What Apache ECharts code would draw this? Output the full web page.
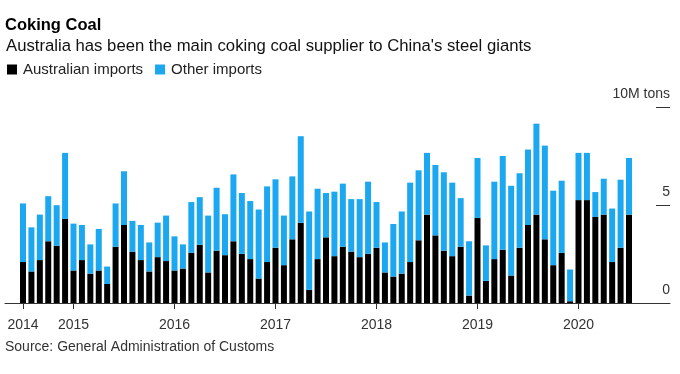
<!DOCTYPE html>
<html>
<head>
<meta charset="utf-8">
<script src="https://cdn.jsdelivr.net/npm/echarts@6/dist/echarts.min.js"></script>
<style>
html,body{margin:0;padding:0;background:#fff;}
#chart{width:680px;height:374px;}
</style>
</head>
<body>
<div id="chart"></div>
<script>
// Monthly imports, Jul 2014 – Jul 2020 (million tons)
const australianImports = [
  2.09,1.61,2.19,3.15,2.92,4.29,
  1.66,2.19,1.50,1.66,0.97,2.87,3.98,2.62,2.19,1.61,2.34,2.14,
  1.66,1.76,2.56,2.97,1.56,2.67,2.44,3.15,2.51,2.24,1.25,2.09,
  2.82,1.93,3.25,4.09,0.67,2.24,3.35,2.39,2.87,2.62,2.34,2.51,
  2.82,1.56,1.35,1.50,2.09,3.20,4.51,3.45,2.67,2.39,2.87,0.38,
  4.34,1.13,2.24,2.72,1.40,2.82,3.98,4.51,3.25,1.93,2.56,0.09,
  5.25,5.25,4.39,4.51,2.09,2.82,4.51
];
const otherImports = [
  2.99,2.25,2.32,2.30,2.07,3.37,
  2.39,1.79,1.49,2.12,0.89,2.21,2.74,1.57,1.79,1.48,1.76,2.32,
  1.74,1.23,2.59,2.43,2.90,3.21,2.09,3.41,3.10,2.96,3.52,3.86,
  3.49,2.53,3.21,4.42,4.00,3.59,2.26,3.29,3.22,2.68,2.96,3.68,
  2.33,1.53,2.68,3.17,4.05,3.57,3.15,3.59,4.00,3.75,2.48,2.77,
  3.06,1.81,3.95,4.78,4.58,3.80,3.85,4.64,4.78,3.80,3.68,1.62,
  2.41,2.41,1.27,1.83,2.73,3.47,2.89
];
// month index (0 = Jul 2014) where each year label sits
const yearTickIndex = [0, 6, 18, 30, 42, 54, 66];
const yearLabels = ['2014','2015','2016','2017','2018','2019','2020'];

const months = australianImports.map((_, i) => {
  const m = 6 + i;
  return (2014 + Math.floor(m / 12)) + '-' + String(m % 12 + 1).padStart(2, '0');
});

const FONT = '"Liberation Sans", Arial, Helvetica, sans-serif';
const chart = echarts.init(document.getElementById('chart'), null, {renderer: 'canvas'});

// bar band: 73 months, centre of first at x=23, last at x=629
const PITCH = (629 - 23) / 72;
const barLeft = 23 - PITCH / 2;
const barRight = 680 - (629 + PITCH / 2);
const frameLeft = 5, frameRight = 10;

chart.setOption({
  animation: false,
  textStyle: {fontFamily: FONT},
  title: [
    {text: 'Coking Coal', left: 5, top: 17, padding: 0,
     textStyle: {fontFamily: FONT, fontSize: 16.5, fontWeight: 'bold', color: '#000'}},
    {text: "Australia has been the main coking coal supplier to China's steel giants", left: 6, top: 38, padding: 0,
     textStyle: {fontFamily: FONT, fontSize: 16.7, fontWeight: 'normal', color: '#111'}},
    {text: 'Source: General Administration of Customs', left: 5, top: 340, padding: 0,
     textStyle: {fontFamily: FONT, fontSize: 14, fontWeight: 'normal', color: '#333'}}
  ],
  legend: {
    left: 7, top: 62, padding: 0, itemGap: 12,
    icon: 'rect', itemWidth: 10, itemHeight: 10,
    textStyle: {fontFamily: FONT, fontSize: 15, color: '#222', padding: [0, 0, 0, 1]},
    data: ['Australian imports', 'Other imports']
  },
  grid: [
    {left: barLeft, right: barRight, top: 107, bottom: 71},
    {left: frameLeft, right: frameRight, top: 107, bottom: 71}
  ],
  xAxis: [
    {
      gridIndex: 0, type: 'category', data: months, boundaryGap: true,
      axisLine: {show: false}, axisTick: {show: false}, axisLabel: {show: false}, splitLine: {show: false}
    },
    {
      gridIndex: 1, type: 'value',
      min: -(23 - frameLeft) / PITCH, max: 72 + (680 - frameRight - 629) / PITCH,
      splitLine: {show: false},
      axisLine: {show: true, onZero: false, lineStyle: {color: '#333', width: 1}},
      axisTick: {show: true, customValues: yearTickIndex, length: 6, lineStyle: {color: '#333'}},
      axisLabel: {
        customValues: yearTickIndex, margin: 15, fontSize: 14, color: '#333', fontFamily: FONT,
        formatter: v => yearLabels[yearTickIndex.indexOf(Math.round(v))] || ''
      }
    }
  ],
  yAxis: [
    {
      gridIndex: 0, type: 'value', min: 0, max: 10, interval: 5,
      axisLine: {show: false}, axisTick: {show: false}, axisLabel: {show: false}, splitLine: {show: false}
    },
    {
      gridIndex: 1, type: 'value', position: 'right', min: 0, max: 10, interval: 5,
      splitLine: {show: false},
      axisLine: {show: false, onZero: false},
      axisTick: {show: true, inside: true, length: 14, lineStyle: {color: '#333'}},
      axisLabel: {
        inside: true, margin: 0, fontSize: 14, color: '#333', fontFamily: FONT,
        verticalAlign: 'bottom', padding: [0, 0, 6, 0],
        formatter: v => v === 10 ? '10M tons' : String(v)
      }
    }
  ],
  series: [
    {name: 'Australian imports', type: 'bar', stack: 'total', barWidth: 6,
     xAxisIndex: 0, yAxisIndex: 0,
     itemStyle: {color: '#000'}, data: australianImports},
    {name: 'Other imports', type: 'bar', stack: 'total', barWidth: 6,
     xAxisIndex: 0, yAxisIndex: 0,
     itemStyle: {color: '#1ba8f0'}, data: otherImports}
  ]
});
</script>
</body>
</html>
